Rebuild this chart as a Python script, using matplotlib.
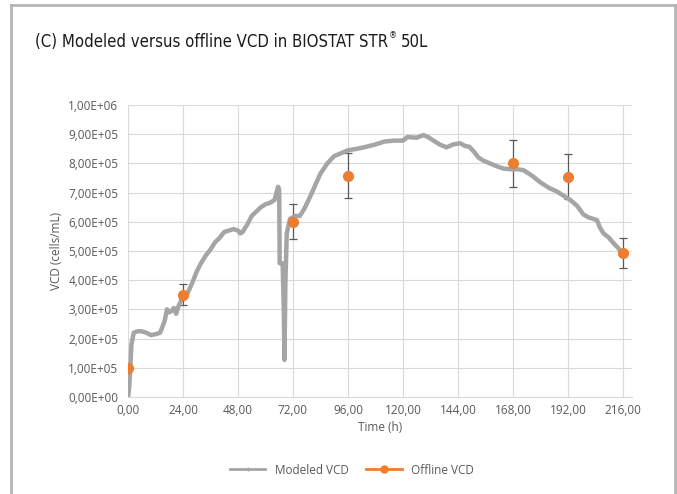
import matplotlib.pyplot as plt
from matplotlib.lines import Line2D

# modeled VCD trace (time in h, VCD in 1e5 cells/mL)
model_t = [0, 0.5, 1, 1.5, 2.5, 4, 6, 8, 10, 12,
           14, 16, 17, 18, 19, 20, 21, 22, 24, 26,
           28, 30, 32, 34, 36, 38, 40, 42, 44, 46,
           48, 49, 50, 52, 54, 56, 58, 60, 62, 64,
           65.5, 66, 66.2, 67.5, 68, 68.3, 68.7, 69.3, 70.7, 73,
           75, 77, 79.5, 82, 84, 87, 90, 93, 96, 100,
           104, 108, 112, 116, 120, 122, 126, 129, 131, 133,
           136, 139, 142, 145, 147, 149, 151, 153, 155, 158,
           161, 164, 167, 170, 172.6, 175, 177, 180, 184, 187,
           190, 193, 196, 198.8, 201, 204.7, 206, 207.6, 210, 212,
           214, 215.6]
model_v = [0, 0.3, 1.0, 1.8, 2.2, 2.25, 2.25, 2.2, 2.12, 2.15,
           2.2, 2.6, 3.0, 2.9, 2.95, 3.05, 2.85, 3.1, 3.45, 3.55,
           3.9, 4.3, 4.6, 4.85, 5.05, 5.3, 5.45, 5.65, 5.7, 5.75,
           5.7, 5.6, 5.65, 5.9, 6.2, 6.35, 6.5, 6.6, 6.65, 6.75,
           7.2, 7.1, 4.58, 4.58, 3.0, 1.27, 3.9, 5.6, 6.1, 6.2,
           6.2, 6.45, 6.86, 7.3, 7.65, 8.0, 8.25, 8.35, 8.45, 8.5,
           8.57, 8.65, 8.75, 8.78, 8.78, 8.9, 8.88, 8.97, 8.9, 8.8,
           8.65, 8.55, 8.65, 8.69, 8.6, 8.57, 8.4, 8.2, 8.1, 8.0,
           7.9, 7.82, 7.8, 7.8, 7.77, 7.65, 7.54, 7.35, 7.15, 7.05,
           6.9, 6.75, 6.55, 6.25, 6.15, 6.06, 5.8, 5.6, 5.45, 5.26,
           5.1, 4.92]

# offline samples
off_t = [0, 24, 72, 96, 168, 192, 216]
off_v = [1.0, 3.5, 6.0, 7.58, 8.0, 7.55, 4.93]
off_err = [0.1, 0.36, 0.6, 0.77, 0.8, 0.77, 0.5]

xticks = [0, 24, 48, 72, 96, 120, 144, 168, 192, 216]
yticks = [i * 1e5 for i in range(11)]

GREY = '#a5a5a5'
ORANGE = '#ed7d31'
TXT = '#595959'
FONT = ['Open Sans', 'DejaVu Sans']

fig = plt.figure(figsize=(6.77, 4.94), dpi=100)
ax = fig.add_axes([128 / 677, 1 - 397 / 494, (632 - 128) / 677, (397 - 105) / 494])

ax.plot(model_t, [v * 1e5 for v in model_v], color=GREY, lw=3.2, zorder=3)
ax.errorbar(off_t, [v * 1e5 for v in off_v], yerr=[e * 1e5 for e in off_err],
            fmt='none', ecolor='#595959', elinewidth=0.9, capsize=3, capthick=0.9, zorder=2)
ax.plot(off_t, [v * 1e5 for v in off_v], 'o', color=ORANGE, ms=7, zorder=4)

ax.set_xlim(0, 220)
ax.set_ylim(0, 1e6)
ax.set_xticks(xticks)
ax.set_xticklabels([f'{t},00' for t in xticks])
ax.set_yticks(yticks)
ylabels = ['0,00E+00'] + [f'{i},00E+05' for i in range(1, 10)] + ['1,00E+06']
ax.set_yticklabels(ylabels)
ax.grid(True, color='#d9d9d9', lw=0.8)
ax.set_axisbelow(True)
for s in ['top', 'right', 'left']:
    ax.spines[s].set_visible(False)
ax.spines['bottom'].set_color('#d9d9d9')
ax.tick_params(length=0, labelsize=8.5, colors=TXT)
ax.tick_params(axis='y', pad=7)
ax.tick_params(axis='x', pad=5)
for lab in ax.get_xticklabels() + ax.get_yticklabels():
    lab.set_family(FONT)

ax.set_xlabel('Time (h)', fontsize=8.5, color=TXT, family=FONT, labelpad=3)
ax.set_ylabel('VCD (cells/mL)', fontsize=8.5, color=TXT, family=FONT, labelpad=4)

handles = [Line2D([], [], color=GREY, lw=2, marker='|', ms=3, mew=1),
           Line2D([], [], color=ORANGE, lw=2, marker='o', ms=5)]
fig.legend(handles, ['Modeled VCD', 'Offline VCD'], loc='center', bbox_to_anchor=(352 / 677, 1 - 470 / 494),
           ncol=2, frameon=False, labelcolor=TXT, handlelength=3, columnspacing=1.5,
           prop={'family': FONT, 'size': 8.5})

title_kw = dict(color='#1a1a1a', va='baseline', ha='left',
                family=['Liberation Sans Narrow', 'DejaVu Sans'], fontstretch='condensed')
t = fig.text(35 / 677, 1 - 47 / 494, '(C) Modeled versus offline VCD in BIOSTAT STR', fontsize=12, **title_kw)
fig.canvas.draw()
bb = t.get_window_extent()
fig.text((bb.x1 + 1) / 677, 1 - 38 / 494, '\u00ae', fontsize=6.5, **title_kw)
fig.text((bb.x1 + 13) / 677, 1 - 47 / 494, '50L', fontsize=12, **title_kw)

# outer frame: left, top and right edges
frame_kw = dict(color='#b5b5b5', lw=2, transform=fig.transFigure)
fig.add_artist(Line2D([11 / 677, 11 / 677], [0, 1 - 5 / 494], **frame_kw))
fig.add_artist(Line2D([11 / 677, 675 / 677], [1 - 5 / 494, 1 - 5 / 494], **frame_kw))
fig.add_artist(Line2D([675 / 677, 675 / 677], [0, 1 - 5 / 494], **frame_kw))

fig.savefig('out.png', dpi=100)
